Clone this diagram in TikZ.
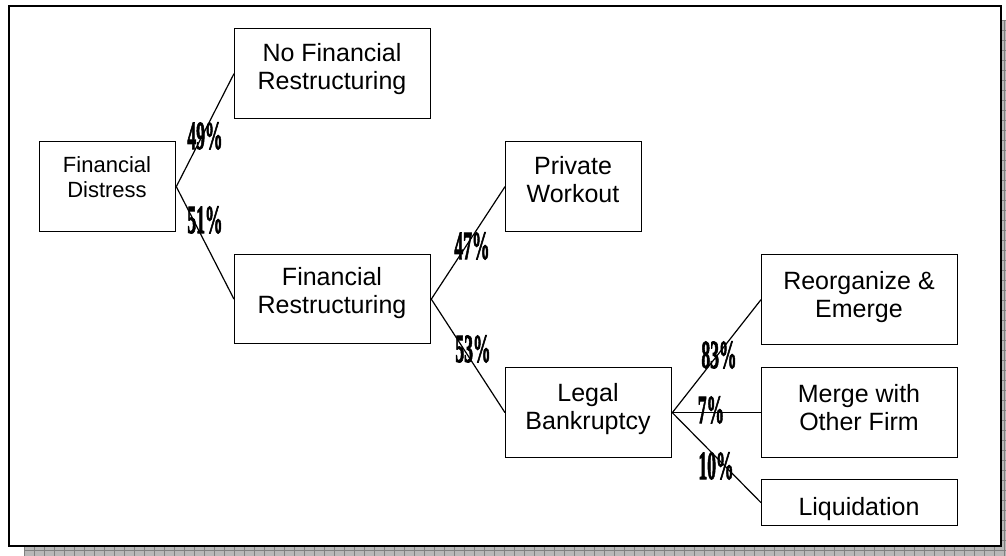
\documentclass[tikz,border=0pt]{standalone}
\usepackage{fontspec}
\setmainfont{Liberation Sans}
\newfontfamily\pctfont[BoldFeatures={FakeBold=2.5}]{Liberation Serif}
\newcommand\pctext[1]{\scalebox{0.44}[1]{#1}}
\begin{document}
\begin{tikzpicture}[x=1pt,y=-1pt,
  box/.style={draw,line width=1.3pt,inner sep=0pt,anchor=north west},
  txt/.style={anchor=north,inner sep=0pt,align=center,font=\fontsize{25}{28}\selectfont},
  smalltxt/.style={anchor=north,inner sep=0pt,align=center,font=\fontsize{22}{25}\selectfont},
  pct/.style={inner sep=0pt,font=\pctfont\bfseries\fontsize{40}{40}\selectfont},
  conn/.style={line width=1.2pt}]
\useasboundingbox (0,0) rectangle (1006,556);
% shadow
\fill[black!28] (24,20) rectangle (1016,560);
\foreach \gx in {24,34,...,1006} \draw[black!50,line width=0.4pt] (\gx,20) -- (\gx,556);
\foreach \gy in {20,30,...,556} \draw[black!50,line width=0.4pt] (24,\gy) -- (1006,\gy);
% frame
\draw[line width=2pt,fill=white] (9,6) rectangle (1001,546);
% boxes
\node[box,minimum width=136pt,minimum height=90pt] (fd) at (39,141) {};
\node[box,minimum width=196pt,minimum height=90pt] (nfr) at (234,28) {};
\node[box,minimum width=196pt,minimum height=89pt] (fr) at (234,254) {};
\node[box,minimum width=136pt,minimum height=90pt] (pw) at (505,141) {};
\node[box,minimum width=166pt,minimum height=90pt] (lb) at (505,367) {};
\node[box,minimum width=196pt,minimum height=90pt] (re) at (761,254) {};
\node[box,minimum width=196pt,minimum height=90pt] (mof) at (761,367) {};
\node[box,minimum width=196pt,minimum height=46pt] (liq) at (761,479) {};
% texts
\node[smalltxt] (fdt) at (107,156) {Financial\\Distress};
\node[txt] (nfrt) at (332,43) {No Financial\\Restructuring};
\node[txt] (frt) at (332,267) {Financial\\Restructuring};
\node[txt] (pwt) at (573,156) {Private\\Workout};
\node[txt] (lbt) at (588,383) {Legal\\Bankruptcy};
\node[txt] (ret) at (859,271) {Reorganize \&\\Emerge};
\node[txt] (moft) at (859,384) {Merge with\\Other Firm};
\node[txt] (liqt) at (859,497) {Liquidation};
% connectors
\draw[conn] (fd.east) -- (nfr.west);
\draw[conn] (fd.east) -- (fr.west);
\draw[conn] (fr.east) -- (pw.west);
\draw[conn] (fr.east) -- (lb.west);
\draw[conn] (lb.east) -- (re.west);
\draw[conn] (lb.east) -- (mof.west);
\draw[conn] (lb.east) -- (liq.west);
% percentages
\node[pct] (p49) at (205,136) {\pctext{49\%}};
\node[pct] (p51) at (205,220) {\pctext{51\%}};
\node[pct] (p47) at (472,246) {\pctext{47\%}};
\node[pct] (p53) at (473,349) {\pctext{53\%}};
\node[pct] (p83) at (719,355) {\pctext{83\%}};
\node[pct] (p7) at (711,410) {\pctext{7\%}};
\node[pct] (p10) at (716,466) {\pctext{10\%}};
\end{tikzpicture}
\end{document}
